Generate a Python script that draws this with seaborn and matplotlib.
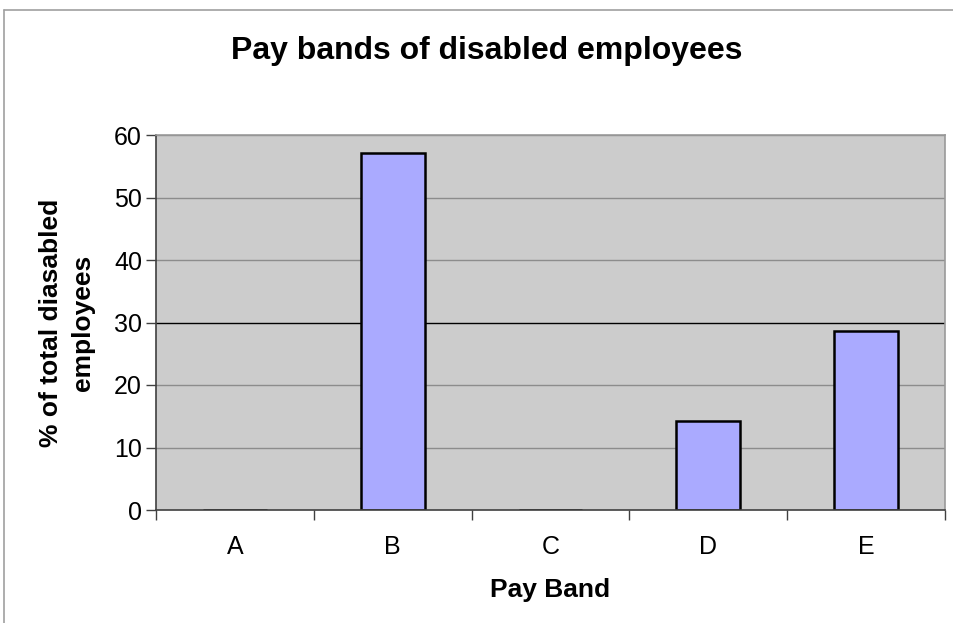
import matplotlib
matplotlib.use("Agg")
import matplotlib.pyplot as plt
import seaborn as sns
import pandas as pd
from matplotlib.lines import Line2D

categories = ["A", "B", "C", "D", "E"]
values = [0, 57.14, 0, 14.29, 28.57]
yticks = [0, 10, 20, 30, 40, 50, 60]

sns.set_theme(style="white")
plt.rcParams["font.family"] = ["Liberation Sans", "DejaVu Sans"]
plt.rcParams["text.color"] = "black"
plt.rcParams["axes.labelcolor"] = "black"
plt.rcParams["xtick.color"] = "black"
plt.rcParams["ytick.color"] = "black"

df = pd.DataFrame({"band": categories, "pct": values})

fig = plt.figure(figsize=(9.54, 6.23), dpi=100)
ax = fig.add_axes([156/954, 1-510/623, (945-156)/954, (510-135)/623])
ax.set_facecolor("#CCCCCC")

for y in yticks[1:]:
    ax.axhline(y, color="#000000" if y == 30 else "#8C8C8C", lw=1, zorder=0.5)

sns.barplot(data=df, x="band", y="pct", color="#AAAAFF", edgecolor="black",
            linewidth=1.8, width=0.405, saturation=1, ax=ax, zorder=2)

ax.set_xlim(-0.5, 4.5)
ax.set_ylim(0, 60)
ax.set_yticks(yticks)
ax.set_yticklabels([str(t) for t in yticks], fontsize=18)
ax.tick_params(axis="y", which="major", direction="out", length=7, width=1,
               color="#404040", pad=3, left=True)
ax.tick_params(axis="x", which="major", length=0, pad=18, labelsize=18)
ax.set_xticks([i - 0.5 for i in range(6)], minor=True)
ax.tick_params(axis="x", which="minor", direction="out", length=7, width=1,
               color="#404040", bottom=True)

for s in ["left", "bottom"]:
    ax.spines[s].set_color("#404040")
    ax.spines[s].set_linewidth(1.2)
for s in ["top", "right"]:
    ax.spines[s].set_color("#999999")
    ax.spines[s].set_linewidth(1.2)

ax.set_xlabel("Pay Band", fontsize=19, fontweight="bold", labelpad=14)
ax.set_ylabel("% of total diasabled\nemployees", fontsize=19, fontweight="bold",
              labelpad=14, linespacing=1.4)
fig.text(487/954, 1-51/623, "Pay bands of disabled employees", ha="center",
         va="center", fontsize=23, fontweight="bold")

# outer chart frame (top and left)
fig.add_artist(Line2D([4/954, 1], [1-10/623, 1-10/623], color="#A0A0A0", lw=1.2))
fig.add_artist(Line2D([4/954, 4/954], [0, 1-10/623], color="#A0A0A0", lw=1.2))

fig.savefig("out.png", dpi=100)
